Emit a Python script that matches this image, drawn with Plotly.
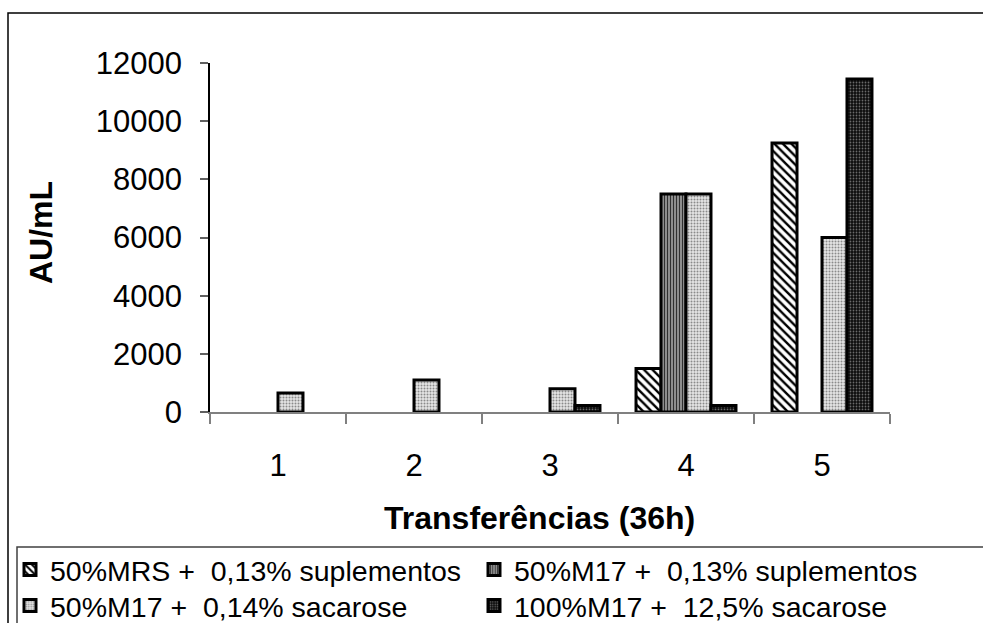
import plotly.graph_objects as go

categories = ["1", "2", "3", "4", "5"]
series_names = [
    "50%MRS +  0,13% suplementos",
    "50%M17 +  0,13% suplementos",
    "50%M17 +  0,14% sacarose",
    "100%M17 +  12,5% sacarose",
]
mrs_013 = [None, None, None, 1500, 9250]
m17_013 = [None, None, None, 7500, None]
m17_014 = [650, 1100, 800, 7500, 6000]
m17_125 = [None, None, 220, 220, 11450]
y_ticks = [0, 2000, 4000, 6000, 8000, 10000, 12000]
y_tick_labels = ["0", "2000", "4000", "6000", "8000", "10000", "12000"]

FONT = "Liberation Sans, Arial, sans-serif"
W, H = 983, 623
ML, MR, MT, MB = 210, 93, 63, 211
PW, PH = W - ML - MR, H - MT - MB


def px_x(px):
    return (px - ML) / PW


def px_y(py):
    return (H - MB - py) / PH


patterns = [
    dict(shape="\\", bgcolor="white", fgcolor="black", size=6, solidity=0.4, fillmode="replace"),
    dict(shape="|", bgcolor="#a0a0a0", fgcolor="#303030", size=3, solidity=0.45, fillmode="replace"),
    dict(shape=".", bgcolor="#e6e6e6", fgcolor="#8a8a8a", size=3, solidity=0.35, fillmode="replace"),
    dict(shape=".", bgcolor="#0c0c0c", fgcolor="#6a6a6a", size=3, solidity=0.28, fillmode="replace"),
]
data = [mrs_013, m17_013, m17_014, m17_125]
legend_ids = ["legend", "legend2", "legend3", "legend4"]
# legend item positions (left x, row centre y) in pixels
legend_pos = [(10, 570), (474, 570), (10, 606), (474, 606)]

fig = go.Figure()
for name, vals, pat, lg in zip(series_names, data, patterns, legend_ids):
    fig.add_trace(go.Bar(
        x=categories, y=vals, name=name, legend=lg,
        marker=dict(pattern=pat, line=dict(color="black", width=3)),
    ))

legend_layout = {}
for lg, (lx, ly) in zip(legend_ids, legend_pos):
    legend_layout[lg] = dict(
        x=px_x(lx), y=px_y(ly), xanchor="left", yanchor="middle",
        orientation="v", font=dict(size=28.5, family=FONT, color="black"),
        bgcolor="rgba(0,0,0,0)", itemwidth=30,
    )

fig.update_layout(
    width=W, height=H,
    margin=dict(l=ML, r=MR, t=MT, b=MB, autoexpand=False),
    paper_bgcolor="white", plot_bgcolor="white",
    barmode="group", bargap=0.265, bargroupgap=0,
    font=dict(family=FONT, color="black"),
    showlegend=True,
    xaxis=dict(
        type="category", showline=True, linecolor="#808080", linewidth=2,
        ticks="outside", tickson="boundaries", ticklen=10, tickcolor="#808080", tickwidth=1.5,
        tickfont=dict(size=31, family=FONT), showgrid=False, ticklabelstandoff=25,
    ),
    yaxis=dict(
        range=[0, 12000], tickvals=y_ticks, ticktext=y_tick_labels,
        showline=True, linecolor="black", linewidth=1.5,
        ticks="outside", ticklen=8, tickcolor="#606060", tickwidth=1.5,
        tickfont=dict(size=31, family=FONT), showgrid=False, zeroline=False,
        ticklabelstandoff=12,
    ),
    annotations=[
        dict(text="<b>Transferências (36h)</b>", x=px_x(539), y=px_y(518), xref="paper", yref="paper",
             xanchor="center", yanchor="middle",
             showarrow=False, font=dict(size=32, family=FONT)),
        dict(text="<b>AU/mL</b>", x=px_x(41), y=px_y(233), xref="paper", yref="paper",
             xanchor="center", yanchor="middle",
             showarrow=False, textangle=-90, font=dict(size=32, family=FONT)),
    ],
    shapes=[
        dict(type="rect", xref="paper", yref="paper", x0=px_x(8), x1=px_x(1000),
             y0=px_y(640), y1=px_y(13), line=dict(color="black", width=1.5), layer="below"),
        dict(type="rect", xref="paper", yref="paper", x0=px_x(17), x1=px_x(1000),
             y0=px_y(640), y1=px_y(547), line=dict(color="#404040", width=1.5), layer="below"),
    ],
)
fig.update_layout(**legend_layout)

fig.write_html("out.html")
